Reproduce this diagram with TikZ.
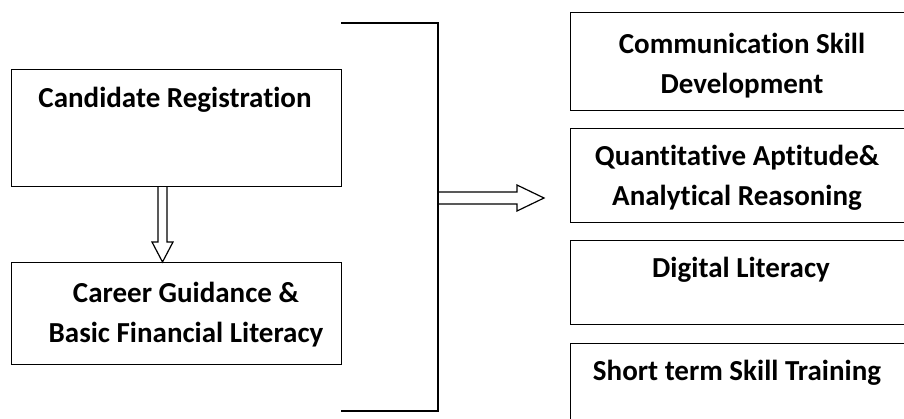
\documentclass[tikz,border=0pt]{standalone}
\usepackage{fontspec}
\setmainfont{Carlito}[Ligatures=NoCommon]
\usepackage{tikz}
\usetikzlibrary{positioning}
\tikzset{myBox/.style={draw=black, line width=1.2pt, anchor=north west, inner sep=0pt}}
\tikzset{myText/.style={font=\bfseries\fontsize{29}{40}\selectfont, anchor=base, align=center, inner sep=0pt}}
\tikzset{myLine/.style={line width=1.2pt, color=black, line join=miter}}

\begin{document}
\begin{tikzpicture}[x=1pt,y=-1pt]
	\useasboundingbox (0,0) rectangle (904,418);
	\clip (0,0) rectangle (904,418);
	%left column
	\node[myBox, minimum width=330pt, minimum height=117pt] (reg) at (11,69) {};
	\node[myBox, minimum width=330pt, minimum height=102pt] (guide) at (11,262) {};
	\node[myText] (regText) at (175,107) {Candidate Registration};
	\node[myText] (guideText) at (186,342) {Career Guidance \&\\ Basic Financial Literacy};

	%right column
	\node[myBox, minimum width=342pt, minimum height=98pt] (comm) at (570,12) {};
	\node[myBox, minimum width=342pt, minimum height=94pt] (quant) at (570,128) {};
	\node[myBox, minimum width=342pt, minimum height=84pt] (digi) at (570,240) {};
	\node[myBox, minimum width=342pt, minimum height=90pt] (skill) at (570,343) {};
	\node[myText] (commText) at (742,93) {Communication Skill\\ Development};
	\node[myText] (quantText) at (737,205) {Quantitative Aptitude\&\\ Analytical Reasoning};
	\node[myText] (digiText) at (741,277) {Digital Literacy};
	\node[myText] (skillText) at (737,380) {Short term Skill Training};

	%bracket
	\coordinate (bTop) at (341,23);
	\coordinate (bBot) at (341,411);
	\draw[myLine] (bTop) -- ++(97,0) |- (bBot);

	%down arrow
	\coordinate (dTop) at (162.5,186);
	\coordinate (dTip) at (guide.north -| dTop);
	\draw[myLine] ([xshift=-4.5pt]dTop) -- ++(0,56) -- ++(-6,0) -- (dTip) -- ++(10.5,-20) -- ++(-6,0) -- ([xshift=4.5pt]dTop);

	%right arrow
	\coordinate (rStart) at (438,198);
	\coordinate (rTip) at (544,198);
	\draw[myLine] ([yshift=6pt]rStart) -- ++(79,0) -- ++(0,-7) -- (rTip) -- ++(-27,13) -- ++(0,-7) -- ([yshift=-6pt]rStart);
\end{tikzpicture}
\end{document}
